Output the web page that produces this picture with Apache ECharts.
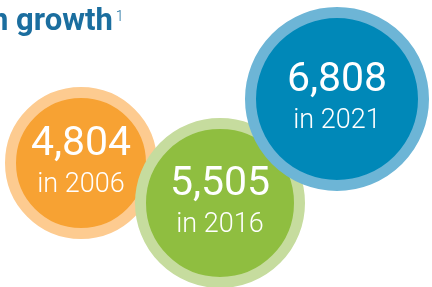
<!DOCTYPE html>
<html>
<head>
<meta charset="utf-8">
<script src="https://cdn.jsdelivr.net/npm/echarts@6/dist/echarts.min.js"></script>
<style>
  html, body { margin: 0; padding: 0; background: #fff; }
  #chart { width: 432px; height: 287px; }
</style>
</head>
<body>
<div id="chart"></div>
<script>
// data
const years = ['2006', '2016', '2021']
const counts = [4804, 5505, 6808]

// layout of the bubbles (pixel-ish space 0..432 x 0..287)
const layoutX = [81, 220, 337]
const layoutY = [163, 203, 99]
const outerSize = [152, 170, 184]
const ringWidth = 11

const fills = ['#f7a233', '#8fbe40', '#0088b8']
const rings = ['#fdcb90', '#c6dc9e', '#6db5d6']

const chart = echarts.init(document.getElementById('chart'))

const fmt = (v) => v.toLocaleString('en-US')

const option = {
  animation: false,
  title: {
    text: '{a|n growth}{s|1}',
    left: -9,
    top: 2,
    padding: 0,
    textStyle: {
      rich: {
        a: { fontFamily: 'Roboto', fontWeight: 'bold', fontSize: 31, color: '#1b6e9f', lineHeight: 40 },
        s: { fontFamily: 'Roboto', fontWeight: 300, fontSize: 14, color: '#1b6e9f', verticalAlign: 'top', lineHeight: 40, padding: [8, 0, 0, 3] }
      }
    }
  },
  grid: { left: 0, right: 0, top: 0, bottom: 0 },
  xAxis: { type: 'value', min: 0, max: 432, show: false },
  yAxis: { type: 'value', min: 0, max: 287, inverse: true, show: false },
  series: [
    {
      type: 'scatter',
      data: counts.map((c, i) => ({
        value: [layoutX[i], layoutY[i], c],
        symbolSize: outerSize[i] - ringWidth,
        itemStyle: { color: fills[i], borderColor: rings[i], borderWidth: ringWidth, opacity: 1 },
        label: {
          formatter: '{n|' + fmt(c) + '}\n{y|in ' + years[i] + '}'
        }
      })),
      label: {
        show: true,
        position: 'inside',
        align: 'center',
        rich: {
          n: { fontFamily: 'Roboto', fontWeight: 400, fontSize: 41, color: '#fff', lineHeight: 44, align: 'center' },
          y: { fontFamily: 'Roboto', fontWeight: 300, fontSize: 27, color: '#fff', lineHeight: 36, align: 'center' }
        }
      },
      emphasis: { disabled: true }
    }
  ]
}

chart.setOption(option)
</script>
</body>
</html>
